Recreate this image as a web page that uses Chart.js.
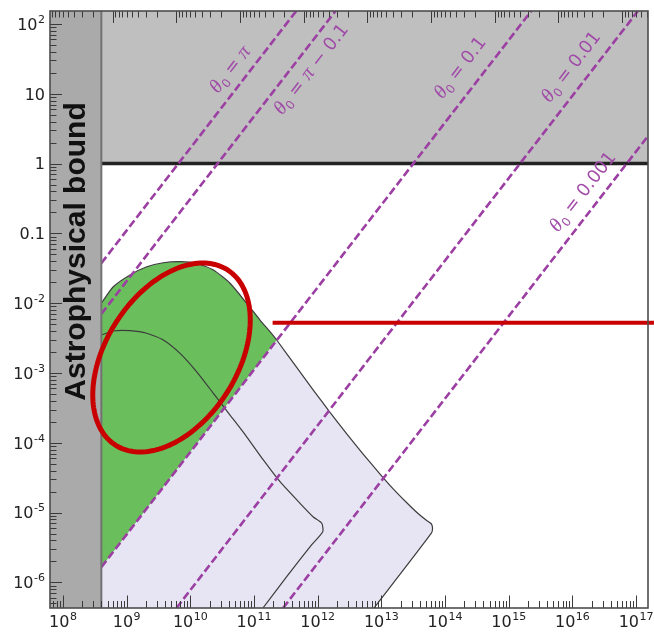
<!DOCTYPE html>
<html>
<head>
<meta charset="utf-8">
<title>Parameter space with θ₀ contours</title>
<script src="https://cdn.jsdelivr.net/npm/chart.js@4/dist/chart.umd.min.js"></script>
<style>
  html, body { margin: 0; padding: 0; background: #ffffff; }
  #box { position: relative; width: 654px; height: 634px; }
</style>
</head>
<body>
<div id="box"><canvas id="chart" width="654" height="634"></canvas></div>
<script>
// ---------- axis ranges (both axes logarithmic) ----------
const xRange = [6.25e7, 1.54e17];
const yRange = [4.30e-7, 153.5];

// ---------- tick values and labels ----------
const xTickValues = [1e8, 1e9, 1e10, 1e11, 1e12, 1e13, 1e14, 1e15, 1e16, 1e17];
const xTickLabels = ['10^8', '10^9', '10^10', '10^11', '10^12', '10^13', '10^14', '10^15', '10^16', '10^17'];
const yTickValues = [100, 10, 1, 0.1, 1e-2, 1e-3, 1e-4, 1e-5, 1e-6];
const yTickLabels = ['10^2', '10', '1', '0.1', '10^-2', '10^-3', '10^-4', '10^-5', '10^-6'];
// upper frame axis runs the other way; its decade marks sit at these x values
const topMajorTicks = [6e7, 6e8, 6e9, 6e10, 6e11, 6e12, 6e13, 6e14, 6e15, 6e16, 6e17, 6e18];

// ---------- bounds ----------
const astroBoundX = 4.0e8;   // astrophysical lower bound on x
const upperLimitY = 1;       // excluded above this value

// ---------- outer allowed region (upper edge, hook, lower-right edge) ----------
const outerX = [4.0e8, 6.17e8, 1.13e9, 2.07e9, 3.76e9, 6.89e9, 1.26e10, 2.30e10, 4.20e10, 7.67e10,
                1.24e11, 1.78e11, 2.27e11, 4.41e11, 8.53e11, 1.56e12, 2.86e12, 5.21e12, 9.53e12,
                1.52e13, 2.44e13, 3.77e13, 5.03e13, 6.03e13, 6.35e13, 6.14e13, 7.67e12];
const outerY = [1.0e-2, 1.72e-2, 2.54e-2, 3.33e-2, 3.80e-2, 3.94e-2, 3.73e-2, 2.99e-2, 1.93e-2, 9.98e-3,
                5.74e-3, 3.91e-3, 2.97e-3, 1.294e-3, 5.70e-4, 2.735e-4, 1.346e-4, 6.84e-5, 3.57e-5,
                2.21e-5, 1.42e-5, 9.70e-6, 7.83e-6, 6.98e-6, 6.12e-6, 5.11e-6, 4.30e-7];
// number of outer points that bound the green part (ends where θ₀ = 0.1 meets the curve)
const greenOuterCount = 13;

// ---------- inner curve ----------
const innerX = [4.0e8, 6.17e8, 1.13e9, 2.07e9, 3.76e9, 6.89e9, 1.26e10, 2.30e10, 4.20e10, 7.67e10,
                1.40e11, 2.56e11, 5.27e11, 8.53e11, 1.16e12, 1.20e12, 7.57e11, 3.26e11, 1.38e11];
const innerY = [3.50e-3, 4.00e-3, 4.04e-3, 3.71e-3, 2.97e-3, 1.91e-3, 1.04e-3, 5.12e-4, 2.50e-4, 1.22e-4,
                5.68e-5, 2.77e-5, 1.36e-5, 8.65e-6, 7.03e-6, 5.32e-6, 3.24e-6, 1.21e-6, 4.30e-7];

// ---------- θ₀ contours (straight in log-log), lower and upper end points ----------
const thetaNames = ['π', 'π − 0.1', '0.1', '0.01', '0.001'];
const thetaLowX  = [4.0e8, 4.0e8, 4.0e8, 6.06e9, 2.86e11];
const thetaLowY  = [3.74e-2, 7.02e-3, 1.65e-6, 4.30e-7, 4.30e-7];
const thetaHighX = [4.61e11, 1.91e12, 2.26e15, 1.07e17, 1.54e17];
const thetaHighY = [153.5, 153.5, 153.5, 153.5, 2.48];

// ---------- red marks ----------
const redLineX = [1.96e11, 1.91e17];
const redLineY = [5.26e-3, 5.26e-3];
// ellipse: centre, end of one semi-axis, end of the other semi-axis
const ellipseCenter = [5.06e9, 1.667e-3];
const ellipseAxisA  = [3.84e10, 3.00e-2];
const ellipseAxisB  = [3.74e10, 5.19e-4];

// ---------- annotation anchors (data coordinates) ----------
const thetaLabelAnchors = [[4.05e10, 23.0], [7.57e11, 23.2], [1.66e14, 24.4], [9.18e15, 25.1], [1.40e16, 0.407]];
const astroLabelAnchor = [2.22e8, 0.0551];

// ---------- colours ----------
const COL = {
  excluded: '#bfbfbf',
  astro: '#aaaaaa',
  astroEdge: '#727272',
  lavender: '#e7e5f3',
  green: '#6abe5c',
  curve: '#3c3c3c',
  limit: '#222222',
  theta: '#9c3fa3',
  thetaText: '#a04aa8',
  red: '#c80000',
  frame: '#4d4d4d',
  text: '#222222'
};

const pts = (xs, ys) => xs.map((v, i) => ({ x: v, y: ys[i] }));

// polygons assembled from the arrays above
const lavenderPoly = pts(outerX, outerY).concat([{ x: astroBoundX, y: yRange[0] }]);
const greenPoly = pts(outerX.slice(0, greenOuterCount), outerY.slice(0, greenOuterCount))
  .concat([{ x: thetaLowX[2], y: thetaLowY[2] }]);
const excludedPoly = [
  { x: astroBoundX, y: upperLimitY }, { x: astroBoundX, y: yRange[1] },
  { x: xRange[1], y: yRange[1] }, { x: xRange[1], y: upperLimitY }
];
const astroPoly = [
  { x: xRange[0], y: yRange[0] }, { x: xRange[0], y: yRange[1] },
  { x: astroBoundX, y: yRange[1] }, { x: astroBoundX, y: yRange[0] }
];

const base = { showLine: true, pointRadius: 0, pointHoverRadius: 0, tension: 0, fill: false };
const shape = (data, color, order) => Object.assign({}, base, {
  data, fill: 'shape', backgroundColor: color, borderColor: 'rgba(0,0,0,0)', borderWidth: 0, clip: false, order
});

const datasets = [
  shape(excludedPoly, COL.excluded, 20),
  shape(lavenderPoly, COL.lavender, 19),
  shape(greenPoly, COL.green, 18),
  Object.assign({}, base, { data: pts(outerX, outerY), borderColor: COL.curve, borderWidth: 1.2, tension: 0.2, order: 17 }),
  Object.assign({}, base, { data: pts(innerX, innerY), borderColor: COL.curve, borderWidth: 1.2, tension: 0.2, order: 16 }),
  Object.assign({}, base, { data: [{ x: astroBoundX, y: upperLimitY }, { x: xRange[1], y: upperLimitY }],
    borderColor: COL.limit, borderWidth: 3.5, order: 15 })
];
thetaNames.forEach((n, i) => {
  datasets.push(Object.assign({}, base, {
    label: 'θ0 = ' + n,
    data: [{ x: thetaLowX[i], y: thetaLowY[i] }, { x: thetaHighX[i], y: thetaHighY[i] }],
    borderColor: COL.theta, borderWidth: 2.6, borderDash: [8, 3.5], borderCapStyle: 'butt', order: 14
  }));
});
datasets.push(shape(astroPoly, COL.astro, 13));
datasets.push(Object.assign({}, base, { data: [{ x: astroBoundX, y: yRange[0] }, { x: astroBoundX, y: yRange[1] }],
  borderColor: COL.astroEdge, borderWidth: 2, order: 12 }));
datasets.push(Object.assign({}, base, { data: pts(redLineX, redLineY), borderColor: COL.red, borderWidth: 4,
  clip: false, order: 11 }));

// draws "10^n" style text with a raised exponent
function powerText(ctx, text, x, yBase, align) {
  const [b, e] = text.split('^');
  ctx.font = '16px "DejaVu Sans"';
  const wb = ctx.measureText(b).width;
  let we = 0;
  if (e) { ctx.font = '11px "DejaVu Sans"'; we = ctx.measureText(e).width + 0.5; }
  const w = wb + we;
  const x0 = align === 'center' ? x - w / 2 : x - w;
  ctx.font = '16px "DejaVu Sans"';
  ctx.fillText(b, x0, yBase);
  if (e) { ctx.font = '11px "DejaVu Sans"'; ctx.fillText(e, x0 + wb + 0.5, yBase - 7); }
}

// θ₀ label: italic theta, subscript zero, then the value
function thetaText(ctx, name, cx, cy, ang) {
  const greek = 'italic 20px "Liberation Serif"';
  const plain = '18px "DejaVu Sans"';
  const parts = [['θ', greek, 0], ['0', '12px "DejaVu Sans"', 4], [' = ', plain, 0]];
  if (name.startsWith('π')) {
    parts.push(['π', greek, 0]);
    if (name.length > 1) parts.push([name.slice(1), plain, 0]);
  } else {
    parts.push([name, plain, 0]);
  }
  let w = 0;
  parts.forEach(p => { ctx.font = p[1]; p.push(ctx.measureText(p[0]).width); w += p[3]; });
  ctx.save();
  ctx.translate(cx, cy);
  ctx.rotate(ang);
  ctx.fillStyle = COL.thetaText;
  ctx.textBaseline = 'alphabetic';
  ctx.textAlign = 'left';
  let x0 = -w / 2;
  parts.forEach(p => { ctx.font = p[1]; ctx.fillText(p[0], x0, 7 + p[2]); x0 += p[3]; });
  ctx.restore();
}

const decor = {
  id: 'decor',
  afterDatasetsDraw(chart) {
    const { ctx, scales: { x, y } } = chart;
    // ellipse from its centre and two conjugate semi-axes
    const c = [x.getPixelForValue(ellipseCenter[0]), y.getPixelForValue(ellipseCenter[1])];
    const a = [x.getPixelForValue(ellipseAxisA[0]) - c[0], y.getPixelForValue(ellipseAxisA[1]) - c[1]];
    const b = [x.getPixelForValue(ellipseAxisB[0]) - c[0], y.getPixelForValue(ellipseAxisB[1]) - c[1]];
    ctx.save();
    ctx.beginPath();
    for (let i = 0; i <= 180; i++) {
      const t = i / 180 * Math.PI * 2;
      const px = c[0] + a[0] * Math.cos(t) + b[0] * Math.sin(t);
      const py = c[1] + a[1] * Math.cos(t) + b[1] * Math.sin(t);
      if (i === 0) ctx.moveTo(px, py); else ctx.lineTo(px, py);
    }
    ctx.closePath();
    ctx.lineWidth = 5;
    ctx.strokeStyle = COL.red;
    ctx.stroke();
    ctx.restore();

    // θ₀ labels, rotated along their contour
    thetaNames.forEach((n, i) => {
      const x0 = x.getPixelForValue(thetaLowX[i]), y0 = y.getPixelForValue(thetaLowY[i]);
      const x1 = x.getPixelForValue(thetaHighX[i]), y1 = y.getPixelForValue(thetaHighY[i]);
      const ang = Math.atan2(y1 - y0, x1 - x0);
      thetaText(ctx, n, x.getPixelForValue(thetaLabelAnchors[i][0]), y.getPixelForValue(thetaLabelAnchors[i][1]), ang);
    });

    // vertical band caption
    ctx.save();
    ctx.translate(x.getPixelForValue(astroLabelAnchor[0]), y.getPixelForValue(astroLabelAnchor[1]));
    ctx.rotate(-Math.PI / 2);
    ctx.font = 'bold 30px "Liberation Sans"';
    ctx.fillStyle = '#111111';
    ctx.textAlign = 'center';
    ctx.textBaseline = 'alphabetic';
    ctx.fillText('Astrophysical bound', 0, 0);
    ctx.restore();
  },
  afterDraw(chart) {
    const { ctx, chartArea: ca, scales: { x, y } } = chart;
    ctx.save();
    // tick marks, pointing into the plot
    ctx.strokeStyle = '#3a3a3a';
    ctx.lineWidth = 1;
    ctx.beginPath();
    const inX = v => v >= xRange[0] && v <= xRange[1];
    const inY = v => v >= yRange[0] && v <= yRange[1];
    for (let e = 7; e <= 17; e++) {
      for (let m = 1; m <= 9; m++) {
        const v = m * Math.pow(10, e);
        if (!inX(v)) continue;
        const px = Math.round(x.getPixelForValue(v)) + 0.5;
        const L = m === 1 ? 12.5 : 7;
        ctx.moveTo(px, ca.bottom); ctx.lineTo(px, ca.bottom - L);
      }
    }
    topMajorTicks.forEach(M => {
      for (let m = 1; m <= 9; m++) {
        const v = M / m;
        if (!inX(v)) continue;
        const px = Math.round(x.getPixelForValue(v)) + 0.5;
        const L = m === 1 ? 12 : 6.5;
        ctx.moveTo(px, ca.top); ctx.lineTo(px, ca.top + L);
      }
    });
    for (let e = -7; e <= 2; e++) {
      for (let m = 1; m <= 9; m++) {
        const v = m * Math.pow(10, e);
        if (!inY(v)) continue;
        const py = Math.round(y.getPixelForValue(v)) + 0.5;
        const L = m === 1 ? 12 : 6.5;
        ctx.moveTo(ca.left, py); ctx.lineTo(ca.left + L, py);
      }
    }
    ctx.stroke();

    // frame
    ctx.strokeStyle = COL.frame;
    ctx.lineWidth = 1.6;
    ctx.strokeRect(ca.left, ca.top, ca.right - ca.left, ca.bottom - ca.top);

    // tick labels
    ctx.fillStyle = COL.text;
    ctx.textAlign = 'left';
    ctx.textBaseline = 'alphabetic';
    xTickValues.forEach((v, i) => powerText(ctx, xTickLabels[i], x.getPixelForValue(v), ca.bottom + 18.5, 'center'));
    yTickValues.forEach((v, i) => powerText(ctx, yTickLabels[i], ca.left - 5, y.getPixelForValue(v) + 5.8, 'right'));
    ctx.restore();
  }
};

new Chart(document.getElementById('chart'), {
  type: 'scatter',
  data: { datasets },
  options: {
    responsive: false,
    animation: false,
    events: [],
    devicePixelRatio: 1,
    layout: { padding: { left: 50, right: 6, top: 11, bottom: 26 } },
    plugins: { legend: { display: false }, tooltip: { enabled: false }, title: { display: false } },
    scales: {
      x: { type: 'logarithmic', min: xRange[0], max: xRange[1], bounds: 'data', display: false },
      y: { type: 'logarithmic', min: yRange[0], max: yRange[1], bounds: 'data', display: false }
    }
  },
  plugins: [decor]
});
</script>
</body>
</html>
